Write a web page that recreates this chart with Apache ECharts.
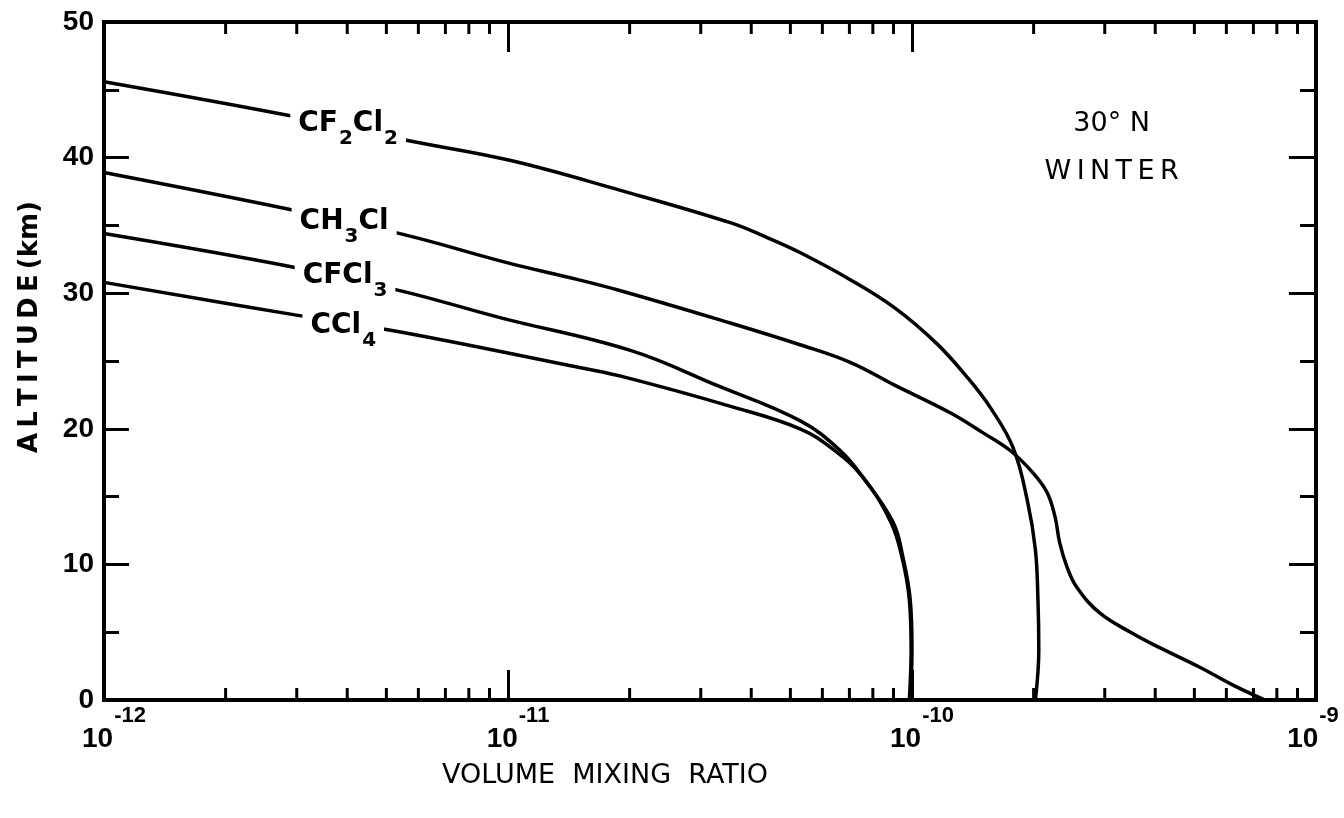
<!DOCTYPE html>
<html><head><meta charset="utf-8">
<script src="https://cdn.jsdelivr.net/npm/echarts@6/dist/echarts.min.js"></script>
<style>html,body{margin:0;padding:0;background:#fff;overflow:hidden}#c{width:1344px;height:818px}</style>
</head><body><div id="c"></div>
<script>
// ---- data ----
const xMin = 1e-12, xMax = 1e-9;
const yMin = 0, yMax = 50;
const minorTickValues = [2e-12,3e-12,4e-12,5e-12,6e-12,7e-12,8e-12,9e-12,
                         2e-11,3e-11,4e-11,5e-11,6e-11,7e-11,8e-11,9e-11,
                         2e-10,3e-10,4e-10,5e-10,6e-10,7e-10,8e-10,9e-10];

const cf2cl2X   = [1.0e-12,3.0e-12,5.56e-12,1.01e-11,1.89e-11,3.55e-11,4.38e-11,5.28e-11,7.03e-11,9.08e-11,1.15e-10,1.37e-10,1.56e-10,1.78e-10,1.93e-10,2.02e-10,2.05e-10,2.06e-10,2.02e-10];
const cf2cl2Alt = [45.6,43.0,41.3,39.8,37.6,35.2,34.1,33.0,31.0,28.9,26.3,23.8,21.6,18.6,14.7,11.1,7.4,3.7,0];

const ch3clX   = [1.0e-12,2.97e-12,5.56e-12,1.01e-11,1.40e-11,1.89e-11,3.55e-11,5.28e-11,7.03e-11,9.08e-11,1.24e-10,1.50e-10,1.75e-10,2.0e-10,2.16e-10,2.26e-10,2.32e-10,2.42e-10,2.56e-10,2.92e-10,3.52e-10,3.95e-10,5.17e-10,6.23e-10,7.48e-10];
const ch3clAlt = [38.9,36.1,34.3,32.2,31.2,30.2,27.8,26.2,24.9,23.2,21.2,19.7,18.4,16.7,15.3,13.5,11.6,9.8,8.3,6.4,4.9,4.1,2.4,1.1,0];

const cfcl3X   = [1.0e-12,2.97e-12,5.56e-12,9.55e-12,2.0e-11,3.29e-11,5.28e-11,6.64e-11,7.57e-11,8.98e-11,9.5e-11,9.9e-11,1.0e-10,9.9e-11];
const cfcl3Alt = [34.4,31.9,30.1,28.2,25.8,23.2,20.6,18.4,16.4,13.1,10.5,7.4,3.7,0];

const ccl4X   = [1.0e-12,2.97e-12,5.50e-12,1.40e-11,1.89e-11,3.61e-11,5.28e-11,6.37e-11,7.57e-11,8.87e-11,9.45e-11,9.85e-11,9.95e-11,9.85e-11];
const ccl4Alt = [30.8,28.4,27.1,24.7,23.9,21.6,20.0,18.5,16.4,13.1,10.5,7.4,3.7,0];

const labelNames = ['CF2Cl2','CH3Cl','CFCl3','CCl4'];
const labelX     = [4.02e-12,3.93e-12,3.95e-12,3.91e-12];
const labelAlt   = [42.5,35.3,31.3,27.6];

const noteX = 3.12e-10, noteAlt = 40.7;

// ---- chart ----
const zip = (xs, ys) => xs.map((x, i) => [x, ys[i]]);
function chemRich(name) {
  const parts = name.match(/\d+|\D+/g);
  return parts.map(p => /\d/.test(p) ? '{s|' + p + '}' : '{m|' + p + '}').join('');
}
const lineStyle = {color:'#000', width:3.5};
function curve(name, xs, ys) {
  return {name, type:'line', data: zip(xs, ys), showSymbol:false, smooth:0.4,
          lineStyle, itemStyle:{color:'#000'}, z:2, silent:true};
}
const chart = echarts.init(document.getElementById('c'), null, {renderer:'canvas'});
const fam = 'DejaVu Sans';
const supFont = {fontFamily:'Liberation Sans', fontWeight:'bold', fontSize:22, color:'#000'};
const option = {
  backgroundColor:'#fff',
  animation:false,
  grid:{left:104, right:28, top:22, bottom:118, show:true, borderColor:'#000', borderWidth:4,
        containLabel:false, outerBoundsMode:'none'},
  xAxis:[{
    type:'log', logBase:10, min:xMin, max:xMax, position:'bottom',
    axisLine:{show:true, onZero:false, lineStyle:{color:'#000', width:4}},
    axisTick:{show:true, inside:true, length:30, lineStyle:{color:'#000', width:3}},
    splitLine:{show:false},
    axisLabel:{show:true, margin:5, padding:[0,0,0,20],
      formatter: v => {
        const e = String(Math.round(Math.log10(v)));
        return '{b|10}{' + (e.length < 3 ? 's2' : 's') + '|' + e + '}';
      },
      rich:{
        b:{fontFamily:'Liberation Sans', fontWeight:'bold', fontSize:28, color:'#000'},
        s:Object.assign({padding:[0,0,46,1]}, supFont),
        s2:Object.assign({padding:[0,26,46,1]}, supFont)
      }}
  },{
    type:'log', logBase:10, min:xMin, max:xMax, position:'top',
    axisLine:{show:true, onZero:false, lineStyle:{color:'#000', width:4}},
    axisTick:{show:true, inside:true, length:30, lineStyle:{color:'#000', width:3}},
    splitLine:{show:false}, axisLabel:{show:false}
  }],
  yAxis:[{
    type:'value', min:yMin, max:yMax, interval:10, position:'left',
    axisLine:{show:true, onZero:false, lineStyle:{color:'#000', width:4}},
    axisTick:{show:true, inside:true, length:25, lineStyle:{color:'#000', width:3}},
    minorTick:{show:true, splitNumber:2, length:15, lineStyle:{color:'#000', width:3}},
    splitLine:{show:false},
    axisLabel:{show:true, margin:10, fontFamily:'Liberation Sans', fontWeight:'bold', fontSize:28, color:'#000'}
  },{
    type:'value', min:yMin, max:yMax, interval:10, position:'right',
    axisLine:{show:true, onZero:false, lineStyle:{color:'#000', width:4}},
    axisTick:{show:true, inside:true, length:27, lineStyle:{color:'#000', width:3}},
    minorTick:{show:true, splitNumber:2, length:16, lineStyle:{color:'#000', width:3}},
    splitLine:{show:false}, axisLabel:{show:false}
  }],
  series:[
    curve('CF2Cl2', cf2cl2X, cf2cl2Alt),
    curve('CH3Cl', ch3clX, ch3clAlt),
    curve('CFCl3', cfcl3X, cfcl3Alt),
    curve('CCl4', ccl4X, ccl4Alt),
    {
      type:'custom', silent:true, clip:false, z:3,
      data: minorTickValues.map(v => [v, yMin]),
      encode:{x:0, y:1},
      renderItem(params, api) {
        const v = api.value(0);
        const b = api.coord([v, yMin]);
        const t = api.coord([v, yMax]);
        const st = {stroke:'#000', lineWidth:3};
        return {type:'group', children:[
          {type:'line', shape:{x1:b[0], y1:b[1], x2:b[0], y2:b[1]-12}, style:st},
          {type:'line', shape:{x1:t[0], y1:t[1], x2:t[0], y2:t[1]+12}, style:st}
        ]};
      }
    },
    {
      type:'scatter', silent:true, z:6, symbolSize:0, itemStyle:{color:'#000', opacity:1},
      data: labelNames.map((n, i) => ({value:[labelX[i], labelAlt[i]], name:n})),
      label:{show:true, position:'inside', backgroundColor:'#fff', padding:[0,8], opacity:1,
        formatter: p => chemRich(p.name),
        rich:{
          m:{fontFamily:fam, fontWeight:'bold', fontSize:28, color:'#000'},
          s:{fontFamily:fam, fontWeight:'bold', fontSize:20, color:'#000', padding:[30,0,0,1]}
        }}
    },
    {
      type:'scatter', silent:true, z:6, symbolSize:0, itemStyle:{color:'#000', opacity:1},
      data:[{value:[noteX, noteAlt], name:'note'}],
      label:{show:true, position:'inside', align:'center', opacity:1,
        formatter: '{a|30° N}\n{a|W\u2009I\u2009N\u2009T\u2009E\u2009R}',
        rich:{a:{fontFamily:fam, fontSize:27, color:'#000', lineHeight:48, align:'center'}}}
    }
  ],
  graphic:[
    {type:'text', x:605, y:776, silent:true,
     style:{text:'VOLUME  MIXING  RATIO', font:'27px "DejaVu Sans"', fill:'#000', align:'center', verticalAlign:'middle'}},
    {type:'text', x:30, y:327, rotation:Math.PI/2, silent:true,
     style:{text:'A\u2009L\u2009T\u2009I\u2009T\u2009U\u2009D\u2009E\u2009(km)', font:'bold 26px "DejaVu Sans"', fill:'#000', align:'center', verticalAlign:'middle'}}
  ]
};
chart.setOption(option);
</script></body></html>
